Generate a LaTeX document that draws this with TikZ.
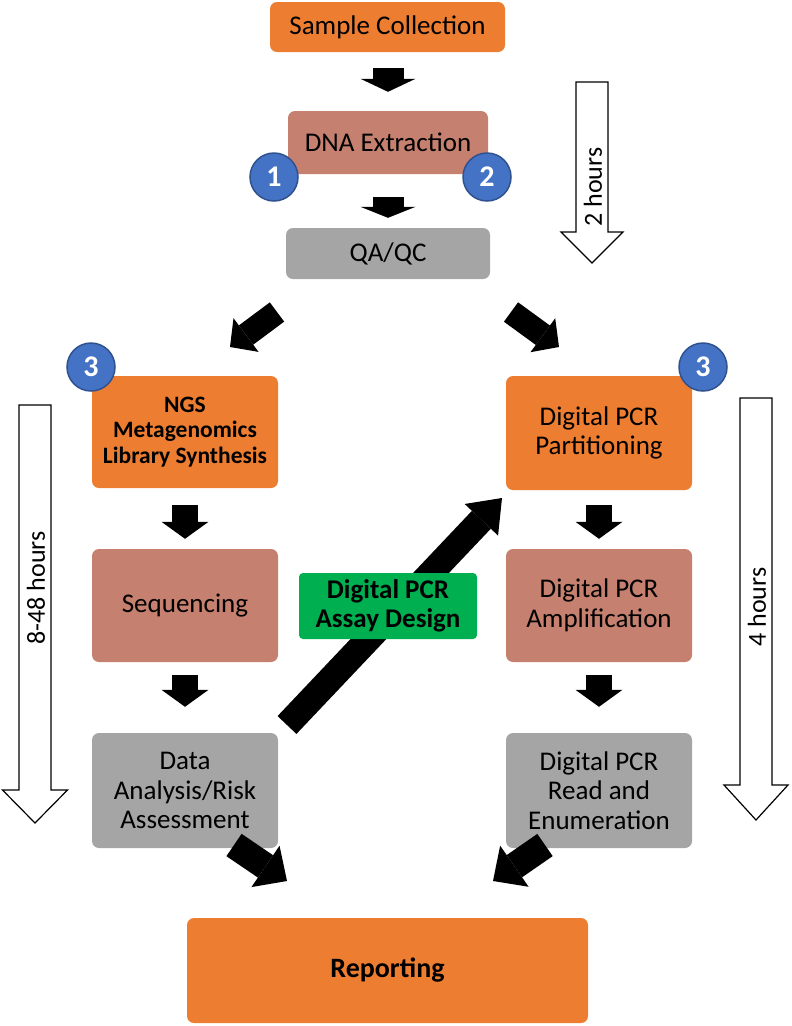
\documentclass[tikz,border=0pt]{standalone}
\usepackage{fontspec}
\setmainfont{Carlito}
\usetikzlibrary{arrows.meta,calc}
\definecolor{orng}{HTML}{ED7D31}
\definecolor{salm}{HTML}{C5806F}
\definecolor{gry}{HTML}{A5A5A5}
\definecolor{grn}{HTML}{00B050}
\definecolor{cblue}{HTML}{4472C4}
\definecolor{cedge}{HTML}{2F528F}
\begin{document}
\begin{tikzpicture}[x=1pt,y=-1pt,
  box/.style={rounded corners=7pt, inner sep=0pt, align=center, text=black,
    font=\fontsize{27}{29.5}\selectfont},
  bbox/.style={box, font=\fontsize{23.5}{25.5}\selectfont\bfseries},
  num/.style={circle, fill=cblue, draw=cedge, line width=1.5pt, minimum size=48pt,
    inner sep=0pt, text=white, font=\fontsize{30}{32}\selectfont\bfseries},
  blk/.style n args={3}{draw=black, line width=#1,
    -{Triangle[length=#3,width=#2,line width=0pt]}},
  hollow/.style={draw=black, fill=white, line width=1.2pt, line join=miter},
  hrs/.style={rotate=90, font=\fontsize{26}{29}\selectfont}
]
\useasboundingbox (0,0) rectangle (792,1026);

% top chain
\node[box, fill=orng, minimum width=235pt, minimum height=50pt] (sc) at (387.5,27) {Sample Collection};
\node[box, fill=salm, minimum width=200pt, minimum height=63pt] (dna) at (388,142.5) {DNA Extraction};
\node[box, fill=gry, minimum width=204pt, minimum height=51pt] (qa) at (388,253.5) {QA/QC};

\node[num] (n1) at (274,177) {1};
\node[num] (n2) at (487,177) {2};

\draw[blk={31pt}{55pt}{13pt}] ($(sc.south)+(0.5,16)$) -- ($(dna.north)+(0,-19)$);
\draw[blk={31pt}{55pt}{11pt}] ($(dna.south)+(0,23)$) -- ($(qa.north)+(0,-10)$);

% left column
\node[bbox, fill=orng, minimum width=186pt, minimum height=112pt] (ngs) at (185,432) {NGS\\Metagenomics\\Library Synthesis};
\node[box, fill=salm, minimum width=186pt, minimum height=113pt] (seq) at (185,605.5) {Sequencing};
\node[box, fill=gry, minimum width=186pt, minimum height=115pt] (data) at (185,790.5) {Data\\Analysis/Risk\\Assessment};

% right column
\node[box, fill=orng, minimum width=186pt, minimum height=114pt] (part) at (599,433) {Digital PCR\\Partitioning};
\node[box, fill=salm, minimum width=186pt, minimum height=113pt] (amp) at (599,605.5) {Digital PCR\\Amplification};
\node[box, fill=gry, minimum width=186pt, minimum height=115pt] (read) at (599,790.5) {Digital PCR\\Read and\\Enumeration};

\node[num] (n3l) at (91,367) {3};
\node[num] (n3r) at (703,367) {3};

% vertical arrows in columns
\draw[blk={26pt}{47pt}{17pt}] ($(ngs.south)+(0,17)$) -- ($(seq.north)+(0,-10)$);
\draw[blk={26pt}{47pt}{17pt}] ($(seq.south)+(0,13)$) -- ($(data.north)+(0,-26)$);
\draw[blk={26pt}{47pt}{17pt}] ($(part.south)+(0,15)$) -- ($(amp.north)+(0,-10)$);
\draw[blk={26pt}{47pt}{17pt}] ($(amp.south)+(0,13)$) -- ($(read.north)+(0,-26)$);

% diagonal arrows
\coordinate (dlt) at (277,312);
\coordinate (dlh) at (230,347);
\coordinate (drt) at (511,312);
\coordinate (drh) at (559,347);
\draw[blk={24pt}{42pt}{20pt}] (dlt) -- (dlh);
\draw[blk={24pt}{42pt}{20pt}] (drt) -- (drh);

\coordinate (blt) at (234,845);
\coordinate (blh) at (287,881);
\coordinate (brt) at (545,845);
\coordinate (brh) at (493,881);
\draw[blk={27pt}{50pt}{26pt}] (blt) -- (blh);
\draw[blk={27pt}{50pt}{26pt}] (brt) -- (brh);

\coordinate (ddt) at (287,725);
\coordinate (ddh) at (502,498);
\draw[blk={26pt}{46pt}{30pt}] (ddt) -- (ddh);

% green box on top of the diagonal
\node[bbox, fill=grn, rounded corners=4pt, minimum width=178pt, minimum height=66pt,
  font=\fontsize{27}{28.5}\selectfont\bfseries] (dsg) at (388,606) {Digital PCR\\Assay Design};

% reporting
\node[bbox, fill=orng, minimum width=401pt, minimum height=105pt,
  font=\fontsize{28}{30}\selectfont\bfseries] (rep) at (387.5,970.5) {Reporting};

% hollow time arrows
\draw[hollow] (576,82) -- (608,82) -- (608,232) -- (623,232) -- (592,263) -- (561,232) -- (576,232) -- cycle;
\node[hrs] (t2) at (593,187) {2 hours};

\draw[hollow] (19,405) -- (51,405) -- (51,790) -- (67.5,790) -- (35,823) -- (2.5,790) -- (19,790) -- cycle;
\node[hrs] (t848) at (36,588) {8-48 hours};

\draw[hollow] (740,398) -- (772,398) -- (772,785) -- (788,785) -- (756,820) -- (724,785) -- (740,785) -- cycle;
\node[hrs] (t4) at (757,607) {4 hours};
\end{tikzpicture}
\end{document}
